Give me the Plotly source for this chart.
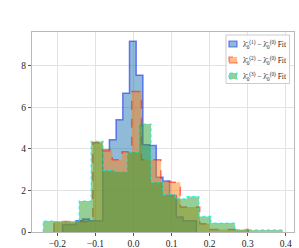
import numpy as np
import plotly.graph_objects as go

# Histogram bin ranges (data units) and densities
blue_range = (-0.1863, 0.1653)
blue_heights = [0.36, 0.36, 0.54, 0.62, 0.54, 0.54, 3.9, 4.44, 5.4, 6.68,
                9.18, 7.55, 4.2, 4.16, 2.64, 2.45, 1.76, 0.72, 0.54, 0.54]

red_range = (-0.2089, 0.3017)
red_heights = [0.5, 0.5, 0.5, 0.5, 4.3, 3.96, 3.48, 3.86, 6.76, 3.48,
               3.48, 2.43, 2.4, 1.2, 1.2, 0.4, 0.12, 0.12, 0.12, 0.12]

green_range = (-0.237, 0.392)
green_heights = [0.53, 0.5, 0.5, 1.49, 4.36, 2.96, 2.9, 3.85, 5.2, 2.4,
                 1.8, 1.6, 1.71, 0.75, 0.43, 0.43, 0.1, 0.1, 0.1, 0.1]

labels = [
    "λ̄<sub>0</sub><sup>(1)</sup> − λ̄<sub>0</sub><sup>(0)</sup> Fit",
    "λ̄<sub>0</sub><sup>(2)</sup> − λ̄<sub>0</sub><sup>(0)</sup> Fit",
    "λ̄<sub>0</sub><sup>(3)</sup> − λ̄<sub>0</sub><sup>(0)</sup> Fit",
]

x_ticks = [-0.2, -0.1, 0.0, 0.1, 0.2, 0.3, 0.4]
y_ticks = [0, 2, 4, 6, 8]


def step_xy(rng, heights):
    edges = np.linspace(rng[0], rng[1], len(heights) + 1)
    xs = [edges[0]] + list(edges)
    ys = [0] + list(heights) + [0]
    return xs, ys


fig = go.Figure()
styles = [
    (blue_range, blue_heights, "rgba(31,119,180,0.5)", "rgba(40,60,240,0.65)", "solid", 1.5),
    (red_range, red_heights, "rgba(255,127,14,0.5)", "rgba(255,30,20,0.6)", "dash", 1.5),
    (green_range, green_heights, "rgba(44,160,44,0.5)", "rgba(0,240,240,0.75)", "dot", 1.2),
]
for (rng, h, fc, lc, dash, lw), name in zip(styles, labels):
    xs, ys = step_xy(rng, h)
    fig.add_trace(go.Scatter(
        x=xs, y=ys, mode="lines", line=dict(shape="hv", color=lc, width=lw, dash=dash),
        fill="tozeroy", fillcolor=fc, name=name, showlegend=False, hoverinfo="skip",
    ))

axis_common = dict(
    showgrid=True, gridcolor="#e3e3e3", gridwidth=1,
    showline=True, linecolor="#b8b8b8", linewidth=1, mirror=True,
    ticks="outside", ticklen=3, tickcolor="#555555",
    zeroline=False, automargin=False,
    tickfont=dict(family="Liberation Serif", size=9.5, color="#222222"),
)
fig.update_xaxes(range=[-0.2665, 0.4215], tickvals=x_ticks, tickformat=".1f", **axis_common)
fig.update_yaxes(range=[0, 9.63], tickvals=y_ticks, **axis_common)

# Manual legend (paper coordinates), box at top right
plot_l, plot_r, plot_t, plot_b = 32, 294, 32, 232
W, H = 299, 248


def px(xp):
    return (xp - plot_l) / (plot_r - plot_l)


def py(yp):
    return (plot_b - yp) / (plot_b - plot_t)


shapes = [dict(type="rect", xref="paper", yref="paper",
               x0=px(226), x1=px(289.5), y0=py(83.5), y1=py(35),
               fillcolor="rgba(255,255,255,0.85)", line=dict(color="#cccccc", width=1))]
annotations = []
row_y = [44, 60, 76]
for (rng, h, fc, lc, dash, lw), name, ry in zip(styles, labels, row_y):
    shapes.append(dict(type="rect", xref="paper", yref="paper",
                       x0=px(229), x1=px(237), y0=py(ry + 3), y1=py(ry - 3),
                       fillcolor=fc, line=dict(color=lc, width=1.2, dash=dash)))
    annotations.append(dict(xref="paper", yref="paper", x=px(241), y=py(ry),
                            xanchor="left", yanchor="middle", showarrow=False,
                            text=name,
                            font=dict(family="Liberation Serif", size=7.5, color="#222222")))

fig.update_layout(
    width=W, height=H,
    margin=dict(l=plot_l, r=W - plot_r, t=plot_t, b=H - plot_b),
    plot_bgcolor="white", paper_bgcolor="white",
    showlegend=False,
    shapes=shapes, annotations=annotations,
)

fig.write_html("out.html", config={"displayModeBar": False},
               post_script="document.body.style.margin='0px';")
